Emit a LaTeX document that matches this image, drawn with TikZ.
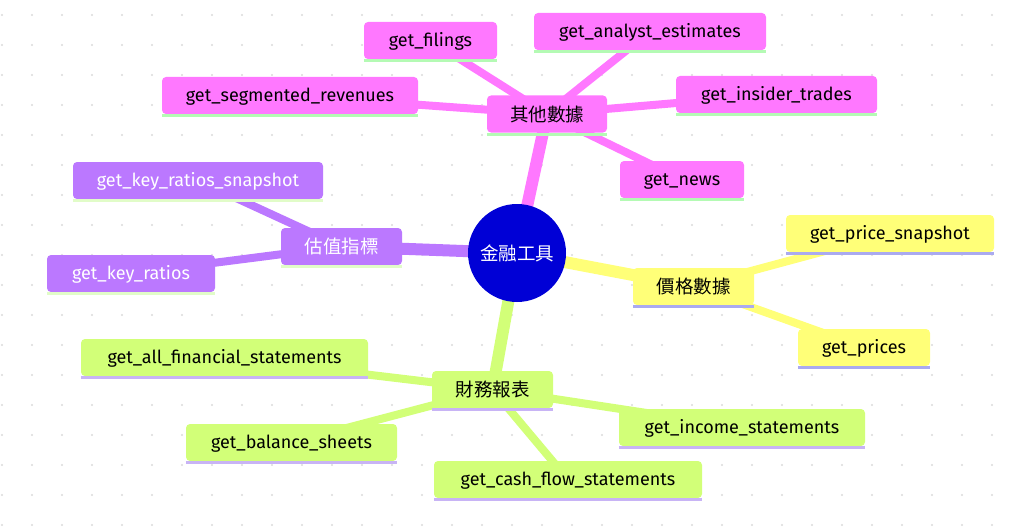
\documentclass[tikz,border=0pt]{standalone}
\usepackage{fontspec}
\setmainfont{Fira Sans}
\newfontfamily\cjk{Noto Sans CJK TC}
\definecolor{pinkS}{RGB}{255,120,255}
\definecolor{yellowS}{RGB}{255,255,120}
\definecolor{greenS}{RGB}{210,255,120}
\definecolor{purpleS}{RGB}{187,120,255}
\definecolor{rootS}{RGB}{0,0,214}
\definecolor{pinkL}{RGB}{180,250,180}
\definecolor{yellowL}{RGB}{170,170,240}
\definecolor{greenL}{RGB}{200,180,245}
\definecolor{purpleL}{RGB}{225,252,200}
\definecolor{dotc}{RGB}{218,218,218}
\pgfdeclarelayer{bg}
\pgfsetlayers{bg,main}
\tikzset{
  box/.style={rectangle, rounded corners=4pt, minimum height=37pt, inner sep=0pt,
    text height=14pt, text depth=2.5pt,
    font=\fontsize{18}{20}\selectfont, text=black},
  cjkbox/.style={rectangle, rounded corners=4pt, minimum height=37pt, inner sep=0pt,
    font=\fontsize{18.5}{20}\selectfont\cjk, text=black},
  rootnode/.style={circle, fill=rootS, minimum size=98pt, inner sep=0pt, text=white,
    font=\fontsize{18.5}{20}\selectfont\cjk},
  rootedge/.style={line width=12pt},
  leafedge/.style={line width=8pt},
}
\begin{document}
\begin{tikzpicture}[x=1pt,y=-1pt]
\useasboundingbox (0,0) rectangle (1021,527);
\begin{pgfonlayer}{bg}
\foreach \i in {0,...,33} \foreach \j in {0,...,17}
  \fill[dotc] (2+30*\i,15+30*\j) circle (1.2);
\end{pgfonlayer}
% root
\node[rootnode] (root) at (517,253) {金融工具};
% pink section
\node[cjkbox, fill=pinkS, minimum width=120pt] (other) at (547,114) {其他數據};
\node[box, fill=pinkS, minimum width=133pt] (filings) at (430.5,40.5) {get\_filings};
\node[box, fill=pinkS, minimum width=256pt] (segrev) at (290,95.5) {get\_segmented\_revenues};
\node[box, fill=pinkS, minimum width=232pt] (analyst) at (650,31.5) {get\_analyst\_estimates};
\node[box, fill=pinkS, minimum width=201pt] (insider) at (776.5,94.5) {get\_insider\_trades};
\node[box, fill=pinkS, minimum width=124pt] (news) at (682,179.5) {get\_news};
% yellow section
\node[cjkbox, fill=yellowS, minimum width=121pt] (price) at (693.5,286.5) {價格數據};
\node[box, fill=yellowS, minimum width=208pt] (pricesnap) at (890,233.5) {get\_price\_snapshot};
\node[box, fill=yellowS, minimum width=132pt] (prices) at (864,347.5) {get\_prices};
% purple section
\node[cjkbox, fill=purpleS, text=white, minimum width=121pt] (valu) at (341.5,246.5) {估值指標};
\node[box, fill=purpleS, text=white, minimum width=250pt] (ratsnap) at (198,180.5) {get\_key\_ratios\_snapshot};
\node[box, fill=purpleS, text=white, minimum width=168pt] (keyrat) at (131,273.5) {get\_key\_ratios};
% green section
\node[cjkbox, fill=greenS, minimum width=121pt] (fin) at (492.5,389.5) {財務報表};
\node[box, fill=greenS, minimum width=287pt] (allfin) at (224.5,357.5) {get\_all\_financial\_statements};
\node[box, fill=greenS, minimum width=246pt] (income) at (742,427.5) {get\_income\_statements};
\node[box, fill=greenS, minimum width=268pt] (cash) at (568,479.5) {get\_cash\_flow\_statements};
\node[box, fill=greenS, minimum width=211pt] (balance) at (291.5,442.5) {get\_balance\_sheets};
% bottom lines
\foreach \n/\c in {other/pinkL,filings/pinkL,segrev/pinkL,analyst/pinkL,insider/pinkL,news/pinkL,
  price/yellowL,pricesnap/yellowL,prices/yellowL,
  valu/purpleL,ratsnap/purpleL,keyrat/purpleL,
  fin/greenL,allfin/greenL,income/greenL,cash/greenL,balance/greenL}
  \draw[line width=3pt, \c] ([yshift=-1.5pt]\n.south west) -- ([yshift=-1.5pt]\n.south east);
% edges
\begin{pgfonlayer}{bg}
\draw[rootedge, pinkS] (root.center) -- (other.center);
\draw[rootedge, yellowS] (root.center) -- (price.center);
\draw[rootedge, purpleS] (root.center) -- (valu.center);
\draw[rootedge, greenS] (root.center) -- (fin.center);
\foreach \n in {filings,segrev,analyst,insider,news}
  \draw[leafedge, pinkS] (other.center) -- (\n.center);
\foreach \n in {pricesnap,prices}
  \draw[leafedge, yellowS] (price.center) -- (\n.center);
\foreach \n in {ratsnap,keyrat}
  \draw[leafedge, purpleS] (valu.center) -- (\n.center);
\foreach \n in {allfin,income,cash,balance}
  \draw[leafedge, greenS] (fin.center) -- (\n.center);
\end{pgfonlayer}
\end{tikzpicture}
\end{document}
